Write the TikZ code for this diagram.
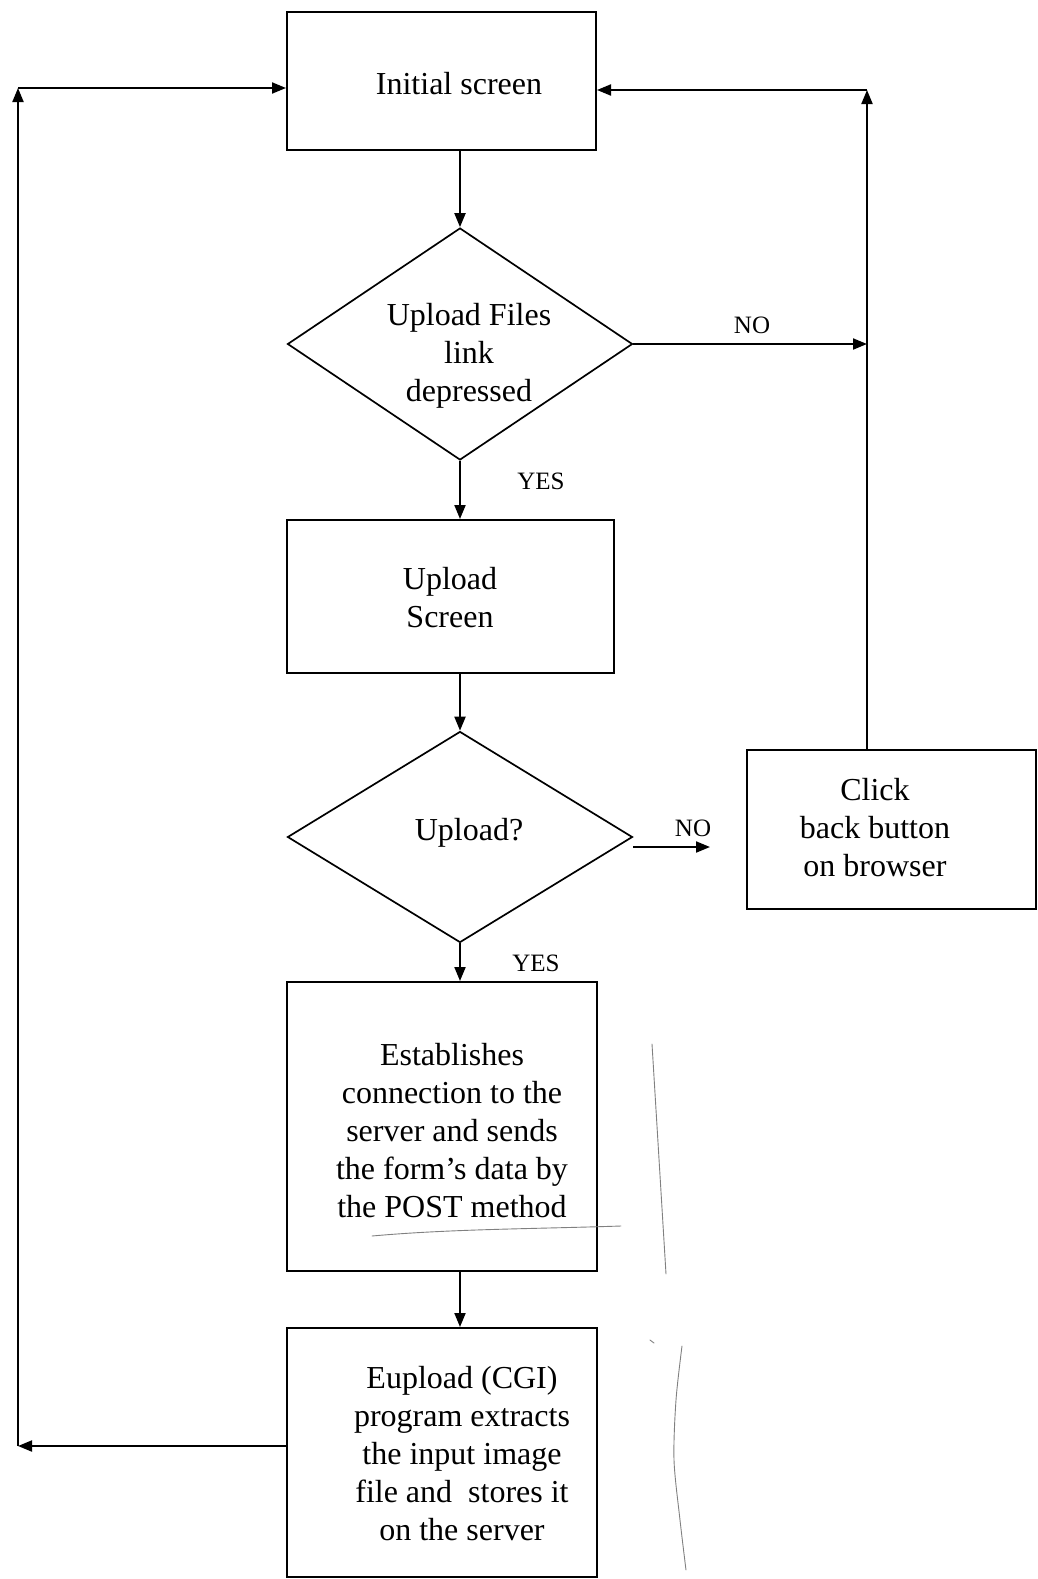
\documentclass[tikz,border=0pt]{standalone}
\usepackage{fontspec}
\setmainfont{Liberation Serif}
\usetikzlibrary{arrows.meta,shapes.geometric}

\begin{document}
\begin{tikzpicture}[x=1pt,y=-1pt,
  box/.style={draw, line width=2pt, rectangle, inner sep=0pt},
  choice/.style={draw, line width=1.7pt, diamond, inner sep=0pt},
  txt/.style={inner sep=0pt, align=center, font=\fontsize{32}{38}\selectfont},
  lbl/.style={inner sep=0pt, font=\fontsize{25}{30}\selectfont},
  flow/.style={line width=2pt, -{Triangle[length=14pt,width=11pt]}},
  pencil/.style={draw=black!50, line width=0.9pt, line cap=round, line join=round}]

\useasboundingbox (0,0) rectangle (1038,1579);

% process boxes
\node[box, minimum width=309pt, minimum height=138pt] (init)  at (441.5,81)    {};
\node[box, minimum width=327pt, minimum height=153pt] (up)    at (450.5,596.5) {};
\node[box, minimum width=310pt, minimum height=289pt] (est)   at (442,1126.5)  {};
\node[box, minimum width=310pt, minimum height=249pt] (eup)   at (442,1452.5)  {};
\node[box, minimum width=289pt, minimum height=159pt] (click) at (891.5,829.5) {};

% decisions
\node[choice, minimum width=345pt, minimum height=232pt] (d1) at (460,344) {};
\node[choice, minimum width=345pt, minimum height=211pt] (d2) at (460,837) {};

% texts
\node[txt] (tinit)  at (459,84)   {Initial screen};
\node[txt] (td1)    at (469,356)  {Upload Files\\link\\depressed};
\node[txt] (tup)    at (450,598)  {Upload\\Screen};
\node[txt] (td2)    at (469,833)  {Upload?};
\node[txt] (tclick) at (875,828)  {Click\\back button\\on browser};
\node[txt] (test)   at (452,1131) {Establishes\\connection to the\\server and sends\\the form’s data by\\the POST method};
\node[txt] (teup)   at (462,1454) {Eupload (CGI)\\program extracts\\the input image\\file and\hspace{8pt} stores it\\on the server};

% branch labels
\node[lbl] (no1)  at (752,325) {NO};
\node[lbl] (yes1) at (541,481) {YES};
\node[lbl] (no2)  at (693,828) {NO};
\node[lbl] (yes2) at (536,963) {YES};

% loop corners
\coordinate (bl) at (18,1446);
\coordinate (tl) at (18,88);
\coordinate (tr) at (867,90);
\coordinate (nojoin) at (867,344);
\coordinate (no2end) at (710,847);

% main flow
\draw[flow] (init.south -| d1.north) -- (d1.north);
\draw[flow] (d1.south) -- (d1.south |- up.north);
\draw[flow] (up.south -| d2.north) -- (d2.north);
\draw[flow] (d2.south) -- (d2.south |- est.north);
\draw[flow] (est.south -| d2.south) -- (eup.north -| d2.south);

% return path on the left
\draw[flow] (bl -| eup.west) -- (bl);
\draw[flow] (bl) -- (tl);
\draw[flow] (tl) -- (tl -| init.west);

% return path on the right
\draw[flow] (click.north -| tr) -- (tr);
\draw[flow] (tr) -- (tr -| init.east);
\draw[flow] (d1.east) -- (nojoin);
\draw[flow] ([yshift=-10pt]d2.east) -- (no2end);

% pencil marks
\draw[pencil] (372,1236) .. controls (450,1229) and (530,1229) .. (621,1226);
\draw[pencil] (652,1044) -- (666,1274);
\draw[pencil] (650,1340) -- (654,1343);
\draw[pencil] plot[smooth] coordinates {(682,1346) (676,1400) (674,1460) (680,1520) (686,1570)};
\end{tikzpicture}
\end{document}
